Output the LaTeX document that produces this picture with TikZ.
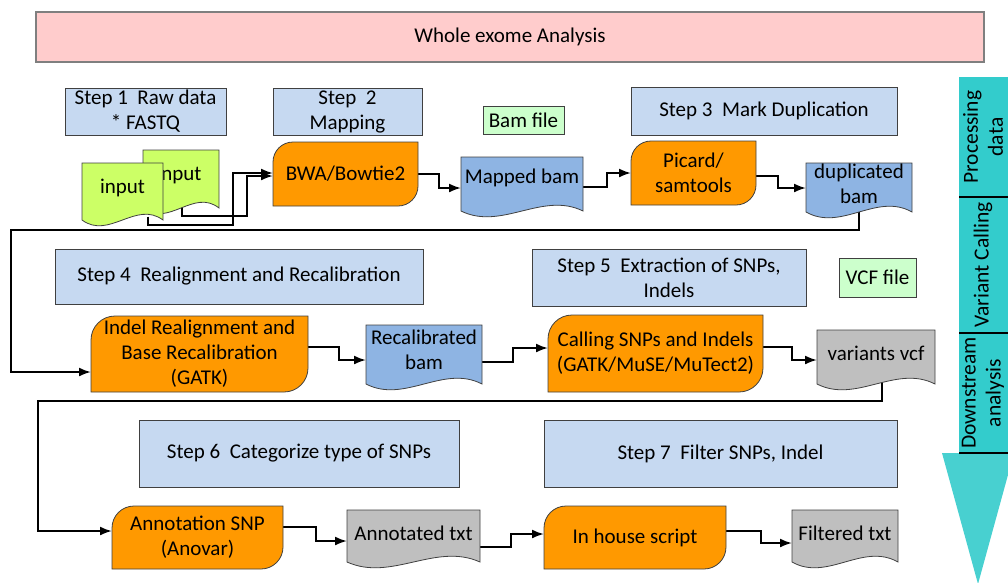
\documentclass[tikz,border=0pt]{standalone}
\usepackage{fontspec}
\setmainfont{Carlito}
\usetikzlibrary{arrows.meta,calc}
\pgfdeclarelayer{conlayer}
\pgfdeclarelayer{shplayer}
\pgfsetlayers{conlayer,shplayer,main}
\definecolor{stepblue}{HTML}{C6D9F1}
\definecolor{orng}{HTML}{FF9900}
\definecolor{docblue}{HTML}{8EB4E3}
\definecolor{docgray}{HTML}{BFBFBF}
\definecolor{lgreen}{HTML}{CCFFCC}
\definecolor{ygreen}{HTML}{CCFF66}
\definecolor{pinkfill}{HTML}{FFCCCC}
\definecolor{tealA}{HTML}{33CCCC}
\definecolor{tealB}{HTML}{48D0D0}
\definecolor{edgec}{HTML}{404040}
\definecolor{titleedge}{HTML}{7F7F7F}

\newcommand\docpath[5]{%
  \draw[draw=edgec, line width=0.8pt, fill=#5] (#1,-#2) -- (#3,-#2) -- (#3,-#4)
    .. controls ({#1+2*(#3-#1)/3},{-#4+20}) and ({#1+(#3-#1)/3},{-#4-20}) .. (#1,-#4) -- cycle;}
\newcommand\docshape[5]{%
  \begin{pgfonlayer}{shplayer}\docpath{#1}{#2}{#3}{#4}{#5}\end{pgfonlayer}}
\newcommand\procshape[2]{%
  \begin{pgfonlayer}{shplayer}
  \draw[draw=edgec, line width=0.8pt, fill=orng] ([xshift=#2pt]#1.north west) -- (#1.north east)
    -- ([yshift=#2pt]#1.south east) arc[start angle=0,end angle=-90,radius=#2pt]
    -- (#1.south west) -- ([yshift=-#2pt]#1.north west) arc[start angle=180,end angle=90,radius=#2pt] -- cycle;
  \end{pgfonlayer}}

\tikzset{
  every node/.style={font=\fontsize{21pt}{25pt}\selectfont, outer sep=0pt, inner sep=0pt, align=center},
  stepbox/.style={draw=edgec, line width=0.8pt, fill=stepblue},
  filebox/.style={draw=edgec, line width=0.8pt, fill=lgreen},
  txt/.style={draw=none},
  conn/.style={line width=2pt, -{Latex[length=12pt,width=9pt]}},
  divline/.style={line width=2.4pt, black},
  phase/.style={rotate=90, font=\fontsize{21.5pt}{25pt}\selectfont}
}

\begin{document}
\begin{tikzpicture}[x=1pt,y=1pt]
\useasboundingbox (0,0) rectangle (1008,-582);

% title
\node[draw=titleedge, line width=1.4pt, fill=pinkfill, minimum width=948pt, minimum height=50pt] (title) at (510,-37) {Whole exome Analysis};

% step boxes
\node[stepbox, minimum width=161pt, minimum height=47pt] (s1) at (145.5,-111.5) {Step 1\ \ Raw data\\* FASTQ};
\node[stepbox, minimum width=149pt, minimum height=47pt] (s2) at (347.5,-111.5) {Step\ \ 2\\Mapping};
\node[filebox, minimum width=81pt, minimum height=28pt] (bamf) at (523.5,-120) {Bam file};
\node[stepbox, minimum width=266pt, minimum height=48pt] (s3) at (764,-111) {Step 3\ \ Mark Duplication};
\node[stepbox, minimum width=368pt, minimum height=55pt] (s4) at (239,-276.5) {Step 4\ \ Realignment and Recalibration};
\node[stepbox, minimum width=274pt, minimum height=57pt] (s5) at (669,-277.5) {Step 5\ \ Extraction of SNPs,\\Indels};
\node[filebox, minimum width=77pt, minimum height=39pt] (vcff) at (877.5,-277.5) {VCF file};
\node[stepbox, minimum width=320pt, minimum height=67pt] (s6) at (299,-453.5) {Step 6\ \ Categorize type of SNPs};
\node[stepbox, minimum width=353pt, minimum height=67pt] (s7) at (720.5,-453.5) {Step 7\ \ Filter SNPs, Indel};

% process boxes
\node[txt, minimum width=145pt, minimum height=64pt] (bwa) at (345.5,-174) {BWA/Bowtie2};
\procshape{bwa}{20}
\node[txt, minimum width=125pt, minimum height=64pt] (picard) at (693.5,-173) {Picard/\\samtools};
\procshape{picard}{20}
\node[txt, minimum width=217pt, minimum height=76pt] (indel) at (199.5,-354) {Indel Realignment and\\Base Recalibration\\(GATK)};
\procshape{indel}{24}
\node[txt, minimum width=215pt, minimum height=77pt] (calling) at (655.5,-353.5) {Calling SNPs and Indels\\(GATK/MuSE/MuTect2)};
\procshape{calling}{24}
\node[txt, minimum width=171pt, minimum height=63pt] (annot) at (197.5,-537.5) {Annotation SNP\\(Anovar)};
\procshape{annot}{22}
\node[txt, minimum width=182pt, minimum height=63pt] (inhouse) at (635,-537.5) {In house script};
\procshape{inhouse}{22}

% documents
\docshape{143}{150}{219}{208}{ygreen}
\node[txt, minimum width=76pt, minimum height=58pt] (input2) at (179,-175) {input};
\docpath{82}{163}{163}{220}{ygreen}
\node[txt, minimum width=81pt, minimum height=57pt] (input1) at (122.5,-188) {input};
\docshape{461}{157}{583}{211}{docblue}
\node[txt, minimum width=122pt, minimum height=54pt] (mapped) at (522,-178) {Mapped bam};
\docshape{806}{163}{912}{212}{docblue}
\node[txt, minimum width=106pt, minimum height=49pt] (dup) at (859,-184) {duplicated\\bam};
\docshape{366}{325}{482}{384}{docblue}
\node[txt, minimum width=116pt, minimum height=59pt] (recal) at (424,-349.5) {Recalibrated\\bam};
\docshape{817}{330}{935}{384}{docgray}
\node[txt, minimum width=118pt, minimum height=54pt] (variants) at (876,-353) {variants vcf};
\docshape{347}{510}{480}{562}{docgray}
\node[txt, minimum width=133pt, minimum height=52pt] (annotated) at (413.5,-533) {Annotated txt};
\docshape{792}{510}{898}{562}{docgray}
\node[txt, minimum width=106pt, minimum height=52pt] (filtered) at (845,-533) {Filtered txt};

% connectors
\begin{pgfonlayer}{conlayer}
\draw[conn] ([xshift=25.5pt]input1.south) |- (233,-225) |- ([yshift=1pt]bwa.west);
\draw[conn] ([xshift=3pt]input2.south) |- (247,-216) |- ([yshift=-2pt]bwa.west);
\draw[conn] (bwa.east) -- ++(21,0) |- ([yshift=-10pt]mapped.west);
\draw[conn] ([yshift=-9pt]mapped.east) -- ++(24,0) |- (picard.west);
\draw[conn] ([yshift=-3pt]picard.east) -- ++(22,0) |- ([yshift=-4pt]dup.west);
\draw[conn] (dup.south) |- (11,-230) |- ([yshift=-18pt]indel.west);
\draw[conn] ([yshift=7pt]indel.east) -- ++(31,0) |- ([yshift=-10.5pt]recal.west);
\draw[conn] ([yshift=-12.5pt]recal.east) -- ++(31,0) |- ([yshift=5.5pt]calling.west);
\draw[conn] ([yshift=6.5pt]calling.east) -- ++(29,0) |- ([yshift=-7pt]variants.west);
\draw[conn] ([xshift=6pt]variants.south) |- (38,-401) |- ([yshift=6.5pt]annot.west);
\draw[conn] ([yshift=10.5pt]annot.east) -- ++(33,0) |- ([yshift=-8pt]annotated.west);
\draw[conn] ([yshift=-14pt]annotated.east) -- ++(31,0) |- ([yshift=3.5pt]inhouse.west);
\draw[conn] ([yshift=6.5pt]inhouse.east) -- ++(35,0) |- ([yshift=-10pt]filtered.west);
\end{pgfonlayer}

% phase arrow
\fill[tealB] (942,-453) -- (1014,-453) -- (978,-584) -- cycle;
\fill[tealA] (959,-77) rectangle (1010,-453);
\draw[divline] (959,-197) -- (1010,-197);
\draw[divline] (959,-333) -- (1010,-333);
\draw[divline] (959,-453) -- (1010,-453);
\node[phase] (p1) at (983,-137) {Processing\\data};
\node[phase] (p2) at (983,-265) {Variant Calling};
\node[phase] (p3) at (983,-393) {Downstream\\analysis};
\end{tikzpicture}
\end{document}
